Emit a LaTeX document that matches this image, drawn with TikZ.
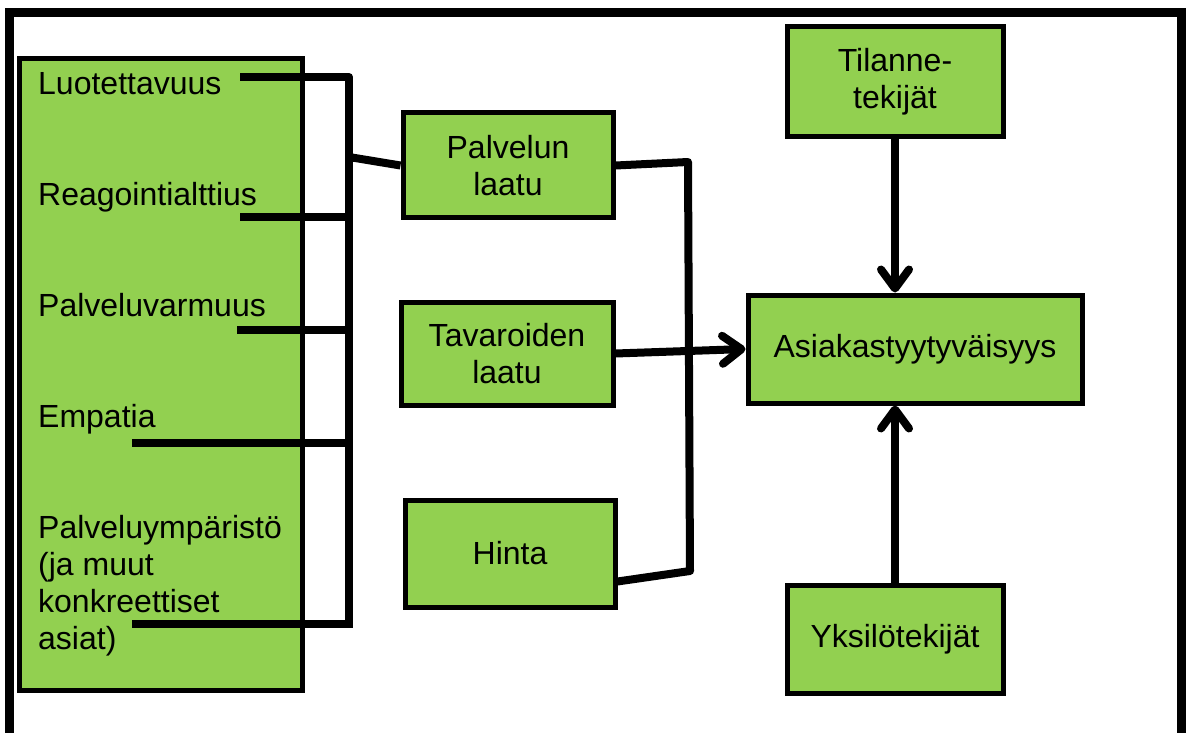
\documentclass[tikz,border=0pt]{standalone}
\usepackage{fontspec}
\setmainfont{Liberation Sans}
\usetikzlibrary{arrows.meta,calc}
\definecolor{boxgreen}{HTML}{92D050}
\begin{document}
\begin{tikzpicture}[x=1pt,y=-1pt,
  box/.style={draw=black, line width=5pt, fill=boxgreen, inner sep=0pt,
    font=\fontsize{32}{37}\selectfont, align=center},
  lbl/.style={inner sep=0pt, font=\fontsize{32}{37}\selectfont, align=left},
  conn/.style={draw=black, line width=8pt, line join=round},
  arr/.style={conn, -{Straight Barb[length=19pt,width=28pt,round]}}
]
\useasboundingbox (0,0) rectangle (1187,733);
\clip (0,0) rectangle (1187,733);
\fill[white] (0,0) rectangle (1187,733);
% outer frame (open at the bottom)
\draw[line width=9pt, line join=miter] (9,780) -- (9,13) -- (1181,13) -- (1181,780);

% left box with its labels
\node[box, minimum width=283pt, minimum height=631pt] (left) at (160.5,374.5) {};
\node[lbl, anchor=base west] (t1) at (38,95) {Luotettavuus};
\node[lbl, anchor=base west] (t2) at (38,206) {Reagointialttius};
\node[lbl, anchor=base west] (t3) at (38,316) {Palveluvarmuus};
\node[lbl, anchor=base west] (t4) at (38,427) {Empatia};
\node[lbl, anchor=north west] (t5) at (38,515) {Palveluympäristö\\(ja muut\\konkreettiset\\asiat)};

% middle boxes
\node[box, minimum width=210pt, minimum height=105pt] (pal) at (508,165.5) {Palvelun\\laatu};
\node[box, minimum width=212pt, minimum height=103pt] (tav) at (507,353.5) {Tavaroiden\\laatu};
\node[box, minimum width=210pt, minimum height=107pt] (hin) at (510,553.5) {Hinta};

% right boxes
\node[box, minimum width=334pt, minimum height=108pt] (asi) at (915,349) {Asiakastyytyväisyys};
\node[box, minimum width=216pt, minimum height=110pt] (til) at (895,82) {Tilanne-\\tekijät};
\node[box, minimum width=216pt, minimum height=108pt] (yks) at (895,639) {Yksilötekijät};

% bracket coordinates
\coordinate (h1) at (240,77);
\coordinate (h2) at (240,217);
\coordinate (h3) at (237,330);
\coordinate (h4) at (132,443);
\coordinate (h5) at (132,624);
\coordinate (b1) at (349,77);
\coordinate (b5) at (349,628);
\coordinate (bj) at (349,157);

\draw[conn] (h1) -- (b1) -- (b5);
\draw[conn] (h2) -- (h2 -| b1);
\draw[conn] (h3) -- (h3 -| b1);
\draw[conn] (h4) -- (h4 -| b1);
\draw[conn] (h5) -- (h5 -| b1);
\draw[conn] (bj) -- (pal.west);

% right bracket from Palvelun laatu and Hinta
\coordinate (r1) at (688,162);
\coordinate (r2) at (690,571);
\draw[conn] (pal.east) -- (r1) -- (r2) -- ($(hin.east)+(0,28)$);

% arrows
\draw[arr] (tav.east) -- (asi.west);
\draw[arr] (til.south) -- (til.south |- asi.north);
\draw[arr] (yks.north) -- (yks.north |- asi.south);
\end{tikzpicture}
\end{document}
